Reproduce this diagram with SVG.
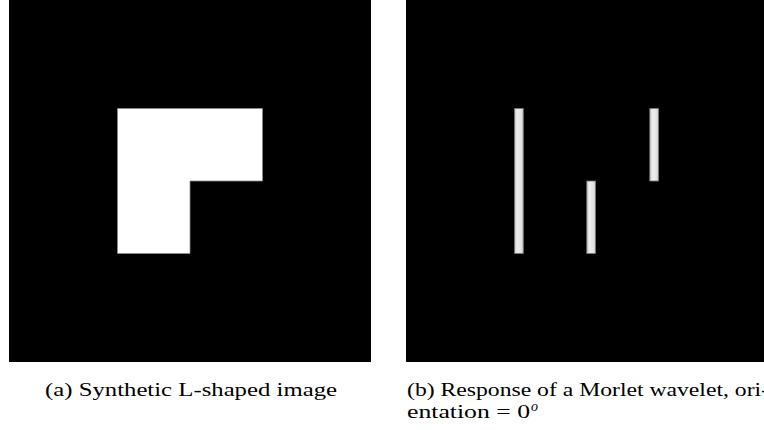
<svg xmlns="http://www.w3.org/2000/svg" width="764" height="430" viewBox="0 0 764 430">
<style>
.cap{font-family:"Liberation Serif","DejaVu Serif",serif;font-size:19px;fill:#000}
.bar{fill:url(#bg);stroke:#777;stroke-width:0.8}
</style>
<defs>
<linearGradient id="bg" x1="0" x2="1" y1="0" y2="0">
<stop offset="0" stop-color="#c8c8c8"/>
<stop offset="0.3" stop-color="#ececec"/>
<stop offset="0.7" stop-color="#e6e6e6"/>
<stop offset="1" stop-color="#c8c8c8"/>
</linearGradient>
</defs>
<rect width="764" height="430" fill="#fff"/>
<g id="panel-a">
<rect x="9" y="0" width="362" height="362" fill="#000"/>
<path d="M117.5 108.5 H262.5 V181 H190 V253.5 H117.5 Z" fill="#fff" stroke="#888" stroke-width="0.8"/>
</g>
<g id="panel-b">
<rect x="406" y="0" width="358" height="362" fill="#000"/>
<rect class="bar" x="514.5" y="108.5" width="8.8" height="145"/>
<rect class="bar" x="586.8" y="181" width="8.8" height="72.5"/>
<rect class="bar" x="649.8" y="108.5" width="8.8" height="72.5"/>
</g>
<text class="cap" x="45" y="396" textLength="292" lengthAdjust="spacingAndGlyphs">(a) Synthetic L-shaped image</text>
<text class="cap" x="407" y="396" textLength="362" lengthAdjust="spacingAndGlyphs">(b) Response of a Morlet wavelet, ori-</text>
<text class="cap" x="407" y="418"><tspan textLength="123" lengthAdjust="spacingAndGlyphs">entation = 0</tspan><tspan dx="1" dy="-7" font-size="14" font-style="italic">o</tspan></text>
</svg>
